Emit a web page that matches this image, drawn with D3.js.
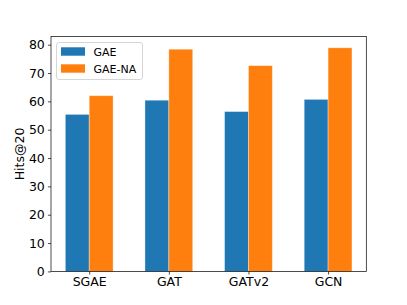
<!DOCTYPE html>
<html>
<head>
<meta charset="utf-8">
<script src="https://cdn.jsdelivr.net/npm/d3@7"></script>
<style>
  body { margin: 0; background: #fff; }
  svg { display: block; font-family: "DejaVu Sans", sans-serif; }
</style>
</head>
<body>
<div id="chart"></div>
<script>
var chart_width = 407,
    chart_height = 305;

// Data
var categories = ['SGAE', 'GAT', 'GATv2', 'GCN'];
var gae = [55.4, 60.4, 56.4, 60.7];
var gae_na = [62.0, 78.4, 72.6, 78.9];
var series_names = ['GAE', 'GAE-NA'];
var y_ticks = [0, 10, 20, 30, 40, 50, 60, 70, 80];

var colors = ['#1f77b4', '#ff7f0e'];

var margin = { left: 51, right: 407 - 366.3, top: 36.6, bottom: 305 - 271.4 };
var bar_w = 0.3;

var svg = d3.select('#chart')
    .append('svg')
    .attr('width', chart_width)
    .attr('height', chart_height);

// matplotlib-like limits with 5% margins
var x = d3.scaleLinear()
    .domain([-0.48, categories.length - 1 + 0.48])
    .range([margin.left, chart_width - margin.right]);

var ymax = d3.max(gae.concat(gae_na)) * 1.05;
var y = d3.scaleLinear()
    .domain([0, ymax])
    .range([chart_height - margin.bottom, margin.top]);

var series = [gae, gae_na];
series.forEach(function (vals, si) {
    svg.append('g')
        .selectAll('rect')
        .data(vals)
        .enter()
        .append('rect')
        .attr('x', function (d, i) { return x(i - bar_w + si * bar_w); })
        .attr('width', x(bar_w) - x(0))
        .attr('y', function (d) { return y(d); })
        .attr('height', function (d) { return y(0) - y(d); })
        .attr('fill', colors[si])
        .attr('stroke', 'rgba(255,255,255,0.45)')
        .attr('stroke-width', 0.8);
});

// Axes
var xAxis = d3.axisBottom(x)
    .tickValues(d3.range(categories.length))
    .tickFormat(function (d) { return categories[d]; })
    .tickSizeOuter(0)
    .tickSize(3.1)
    .tickPadding(3.1);

var yAxis = d3.axisLeft(y)
    .tickValues(y_ticks)
    .tickSizeOuter(0)
    .tickSize(3.1)
    .tickPadding(3.1);

var gx = svg.append('g')
    .attr('transform', 'translate(0,' + y(0) + ')')
    .call(xAxis);
var gy = svg.append('g')
    .attr('transform', 'translate(' + x.range()[0] + ',0)')
    .call(yAxis);

[gx, gy].forEach(function (g) {
    g.select('.domain').remove();
    g.selectAll('line').attr('stroke', '#000').attr('stroke-width', 0.7);
    g.selectAll('text')
        .attr('fill', '#000')
        .style('font-size', '12.5px')
        .style('font-family', '"DejaVu Sans", sans-serif');
});

// frame
svg.append('rect')
    .attr('x', x.range()[0])
    .attr('y', y.range()[1])
    .attr('width', x.range()[1] - x.range()[0])
    .attr('height', y.range()[0] - y.range()[1])
    .attr('fill', 'none')
    .attr('stroke', '#000')
    .attr('stroke-width', 0.7);

// y label
svg.append('text')
    .attr('transform', 'translate(23.5,' + (y.range()[0] + y.range()[1]) / 2 + ') rotate(-90)')
    .attr('text-anchor', 'middle')
    .style('font-size', '12.5px')
    .text('Hits@20');

// Legend
var legend = svg.append('g').attr('transform', 'translate(56.5,42.5)');
legend.append('rect')
    .attr('width', 86)
    .attr('height', 37)
    .attr('rx', 2.5)
    .attr('fill', 'rgba(255,255,255,0.8)')
    .attr('stroke', '#ccc')
    .attr('stroke-width', 0.8);

series_names.forEach(function (name, i) {
    var row = legend.append('g').attr('transform', 'translate(4.5,' + (4.8 + i * 17) + ')');
    row.append('rect')
        .attr('width', 24)
        .attr('height', 8.4)
        .attr('fill', colors[i]);
    row.append('text')
        .attr('x', 32.5)
        .attr('y', 8.3)
        .style('font-size', '11px')
        .text(name);
});
</script>
</body>
</html>
